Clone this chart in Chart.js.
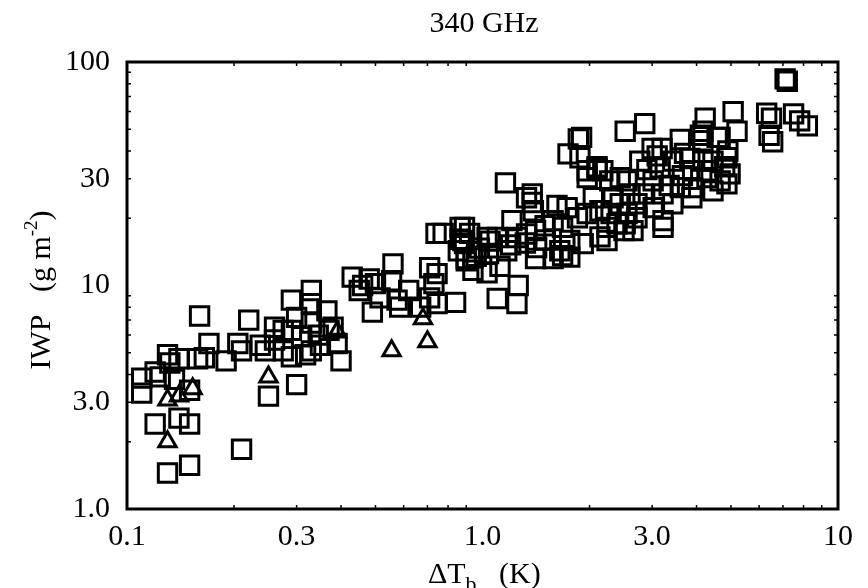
<!DOCTYPE html>
<html>
<head>
<meta charset="utf-8">
<script src="https://cdn.jsdelivr.net/npm/chart.js@4.4.0/dist/chart.umd.min.js"></script>
<style>
  html, body { margin: 0; padding: 0; background: #fff; }
</style>
</head>
<body>
<canvas id="iwpChart" width="868" height="588"></canvas>
<script>
// Delta Tb (K) and IWP (g m-2)
const squareDT = [
  0.11, 0.11, 0.12, 0.124, 0.13, 0.14, 0.136, 0.15, 0.16, 0.17, 0.12, 0.15, 0.14, 0.13, 0.15, 0.21,
  0.19, 0.205, 0.22, 0.158, 0.132, 0.165, 0.21,
  0.25, 0.30, 0.245, 0.237, 0.26, 0.275, 0.29, 0.29, 0.30, 0.31, 0.33, 0.33, 0.33, 0.33, 0.365,
  0.37, 0.39, 0.40, 0.275, 0.29, 0.318, 0.35, 0.26, 0.38, 0.345,
  0.43, 0.48, 0.56, 0.555, 0.49, 0.45, 0.515, 0.575, 0.585, 0.71, 0.745, 0.73, 0.745, 0.84, 0.67,
  0.46, 0.71, 0.50, 0.62,
  1.16, 1.38, 1.38, 1.39, 1.21, 1.10, 1.25, 1.17, 1.04, 0.92, 0.88, 0.90, 1.03, 1.10, 1.25, 1.26,
  1.41, 1.42, 1.41, 1.58, 1.73, 1.68, 1.65, 1.68, 1.76, 1.92, 1.97, 2.14, 2.24, 2.39, 2.44, 2.55,
  2.6, 2.44, 2.77, 2.18, 1.97, 1.88, 1.74, 1.86, 1.9, 1.97, 2.05, 2.65, 2.1, 1.5, 1.5, 1.32, 1.33,
  1.2, 1.05, 0.98, 0.96, 1.12, 0.775, 0.74, 0.865, 0.865, 0.855, 0.9, 1.33, 1.62, 1.85, 2.33, 2.1,
  2.28, 1.58, 1.76, 2.24, 2.3, 2.5, 2.14, 0.89, 0.89, 0.94, 0.94, 1.03,
  7.1, 7.2, 6.3, 6.5, 7.5, 7.8, 8.2, 6.55, 6.4, 5.07, 4.23, 5.2, 4.66, 4.1, 3.6, 2.86, 2.52, 3.0,
  3.2, 3.43, 3.83, 3.9, 3.9, 3.88, 4.87, 4.97, 4.87, 4.45, 4.17, 4.28, 3.16, 3.02, 3.22, 3.22,
  3.22, 2.83, 2.72, 2.72, 2.52, 3.6, 3.43, 3.02, 2.55, 4.17, 4.57, 4.3, 4.45, 4.66, 3.65, 3.35,
  4.8, 4.9, 3.7, 3.1, 2.9, 4.17
];
const squareIWP = [
  3.85, 3.3, 4.1, 3.9, 4.9, 4.7, 3.8, 3.4, 7.3, 5.5, 2.4, 2.4, 2.55, 1.45, 1.57, 1.85,
  4.6, 5.5, 7.0, 4.7, 4.5, 4.75, 5.1,
  3.2, 3.6, 5.1, 5.4, 5.7, 6.3, 8.6, 6.3, 7.2, 5.9, 9.5, 8.3, 6.8, 5.1, 7.7,
  6.3, 5.5, 4.6, 5.1, 4.8, 4.9, 5.4, 6.5, 6.5, 6.0,
  10.9, 10.7, 12.5, 10.5, 7.6, 9.5, 8.8, 8.6, 8.0, 12.0, 11.3, 10.2, 8.3, 8.4, 8.0,
  10.0, 8.8, 10.2, 9.5,
  28.8, 25.7, 23.5, 21.6, 19.5, 16.4, 16.4, 14.3, 13.9, 17.1, 15.9, 12.9, 11.4, 8.75, 8.3, 10.0,
  17.6, 14.8, 13.2, 19.5, 22.3, 18.2, 14.3, 13.6, 15.9, 15.4, 21.0, 21.6, 18.2, 18.9, 23.2, 21.0,
  25.7, 30.4, 36, 32.6, 32.6, 37.3, 38.8, 45.3, 46, 30.4, 24.7, 17.6, 34, 16, 18.5, 15.5, 17,
  15.2, 15.8, 14.7, 13.5, 12.2, 17.1, 17.1, 18.2, 16.1, 14.3, 13.2, 24.7, 22.8, 20.1, 24.7, 33.3,
  29.4, 13.2, 13.4, 15.9, 21, 17.6, 16.5, 18.2, 15.4, 13.3, 11.7, 16.4,
  84, 82, 59, 56, 58.6, 54.5, 51.8, 44, 47, 60, 56, 49, 46, 47, 45, 53, 49, 41,
  41, 36, 37, 32.6, 27.4, 24.7, 37.3, 31.6, 28.5, 36, 36, 30.4, 33.6, 29.4, 25.7, 19.5,
  18.2, 25.7, 23.2, 20.1, 18.9, 27.4, 23.2, 22.3, 29.4, 44.4, 46, 32.6, 26.5, 29.4, 31, 28,
  34, 40, 39, 38, 33, 49
];
const triangleDT = [0.13, 0.13, 0.153, 0.14, 0.25, 0.39, 0.555, 0.68, 0.70];
const triangleIWP = [2.0, 3.07, 3.45, 3.2, 3.9, 6.2, 5.1, 7.1, 5.6];

const xTicks = [0.1, 0.3, 1, 3, 10];
const xTickLabels = ['0.1', '0.3', '1.0', '3.0', '10'];
const yTicks = [1, 3, 10, 30, 100];
const yTickLabels = ['1.0', '3.0', '10', '30', '100'];
const minorSteps = [2, 3, 4, 5, 6, 7, 8, 9];

const serif = '"Liberation Serif", "DejaVu Serif", serif';

// frame, small inward ticks, title and axis titles
const framePlugin = {
  id: 'frame',
  afterDraw(chart) {
    const ctx = chart.ctx;
    const a = chart.chartArea;
    const xs = chart.scales.x, ys = chart.scales.y;
    ctx.save();
    ctx.strokeStyle = '#000';
    ctx.lineWidth = 1.5;
    [0.1, 1].forEach(dec => minorSteps.forEach(m => {
      const px = xs.getPixelForValue(dec * m);
      ctx.beginPath();
      ctx.moveTo(px, a.top); ctx.lineTo(px, a.top + 4);
      ctx.moveTo(px, a.bottom); ctx.lineTo(px, a.bottom - 4);
      ctx.stroke();
    }));
    [1, 10].forEach(dec => minorSteps.forEach(m => {
      const py = ys.getPixelForValue(dec * m);
      ctx.beginPath();
      ctx.moveTo(a.left, py); ctx.lineTo(a.left + 4, py);
      ctx.moveTo(a.right, py); ctx.lineTo(a.right - 4, py);
      ctx.stroke();
    }));
    ctx.lineWidth = 3;
    ctx.strokeRect(a.left, a.top, a.right - a.left, a.bottom - a.top);

    ctx.fillStyle = '#000';
    ctx.textBaseline = 'alphabetic';
    ctx.textAlign = 'center';
    ctx.font = '30px ' + serif;
    ctx.fillText('340 GHz', 484, 32);

    // x title: ΔTb (K)
    ctx.textAlign = 'left';
    let x = 428;
    ctx.font = '30px ' + serif;
    ctx.fillText('ΔT', x, 583);
    x += ctx.measureText('ΔT').width;
    ctx.font = '22px ' + serif;
    ctx.fillText('b', x, 591);
    x += ctx.measureText('b').width;
    ctx.font = '30px ' + serif;
    ctx.fillText('   (K)', x, 583);

    // y title: IWP (g m-2)
    ctx.translate(50, 290);
    ctx.rotate(-Math.PI / 2);
    const part1 = 'IWP   (g m', sup = '-2', part2 = ')';
    ctx.font = '30px ' + serif;
    const w1 = ctx.measureText(part1).width, w3 = ctx.measureText(part2).width;
    ctx.font = '19px ' + serif;
    const w2 = ctx.measureText(sup).width;
    let t = -(w1 + w2 + w3) / 2;
    ctx.font = '30px ' + serif;
    ctx.fillText(part1, t, 0);
    t += w1;
    ctx.font = '19px ' + serif;
    ctx.fillText(sup, t, -13);
    t += w2;
    ctx.font = '30px ' + serif;
    ctx.fillText(part2, t, 0);
    ctx.restore();
  }
};

const ctx = document.getElementById('iwpChart').getContext('2d');
new Chart(ctx, {
  type: 'scatter',
  data: {
    datasets: [
      {
        label: 'squares',
        data: squareDT.map((v, i) => ({ x: v, y: squareIWP[i] })),
        pointStyle: 'rect',
        pointRadius: 13,
        pointHoverRadius: 13,
        borderWidth: 3,
        borderColor: '#000',
        backgroundColor: 'rgba(0,0,0,0)',
        clip: false
      },
      {
        label: 'triangles',
        data: triangleDT.map((v, i) => ({ x: v, y: triangleIWP[i] })),
        pointStyle: 'triangle',
        pointRadius: 10,
        pointHoverRadius: 10,
        borderWidth: 3,
        borderColor: '#000',
        backgroundColor: 'rgba(0,0,0,0)',
        clip: false
      }
    ]
  },
  options: {
    responsive: false,
    animation: false,
    devicePixelRatio: 1,
    layout: { padding: { top: 62, right: 30, bottom: 0, left: 0 } },
    plugins: {
      legend: { display: false },
      tooltip: { enabled: false },
      title: { display: false }
    },
    scales: {
      x: {
        type: 'logarithmic',
        position: 'bottom',
        min: 0.1,
        max: 10,
        grid: { display: false, drawTicks: false },
        border: { display: false },
        ticks: {
          color: '#000',
          font: { family: serif, size: 30 },
          padding: 10,
          maxRotation: 0,
          autoSkip: false,
          callback: v => xTickLabels[xTicks.indexOf(v)]
        },
        afterBuildTicks: s => { s.ticks = xTicks.map(v => ({ value: v })); },
        afterFit: s => { s.height = 79; }
      },
      y: {
        type: 'logarithmic',
        min: 1,
        max: 100,
        grid: { display: false, drawTicks: false },
        border: { display: false },
        ticks: {
          color: '#000',
          font: { family: serif, size: 30 },
          padding: 17,
          autoSkip: false,
          callback: v => yTickLabels[yTicks.indexOf(v)]
        },
        afterBuildTicks: s => { s.ticks = yTicks.map(v => ({ value: v })); },
        afterFit: s => { s.width = 127; }
      }
    }
  },
  plugins: [framePlugin]
});
</script>
</body>
</html>
